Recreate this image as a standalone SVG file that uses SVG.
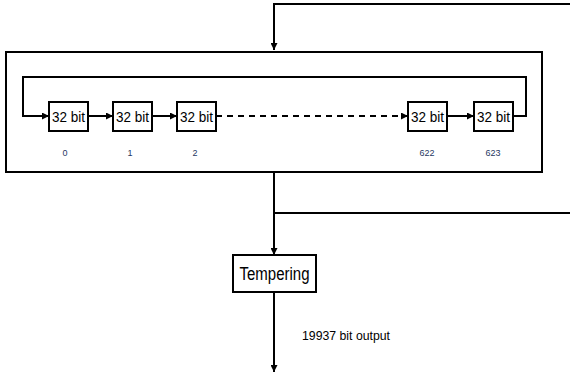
<svg xmlns="http://www.w3.org/2000/svg" width="570" height="378" viewBox="0 0 570 378">
<style>
.box{fill:#fff;stroke:#000;stroke-width:2}
.ln{fill:none;stroke:#000;stroke-width:2}
.t{font-family:"Liberation Sans Narrow","Liberation Sans",Arial,sans-serif;fill:#000;text-anchor:middle;dominant-baseline:central}
.idx{font-family:"Liberation Sans Narrow","Liberation Sans",Arial,sans-serif;fill:#1f3864;font-size:9px;text-anchor:middle;dominant-baseline:central}
</style>
<defs>
<marker id="ah" viewBox="0 0 10 10" refX="10" refY="5" markerWidth="3.5" markerHeight="3.5" orient="auto" markerUnits="strokeWidth">
<path d="M0,0 L10,5 L0,10 z" fill="#000"/>
</marker>
</defs>
<rect x="0" y="0" width="570" height="378" fill="#fff"/>
<g id="state">
<rect class="box" x="6" y="52" width="536" height="120"/>
</g>
<g id="connectors">
<polyline class="ln" points="570,4 274,4 274,50" marker-end="url(#ah)"/>
<polyline class="ln" points="513,116 526,116 526,77 23,77 23,116 49,116" marker-end="url(#ah)"/>
<line class="ln" x1="88" y1="116" x2="113" y2="116" marker-end="url(#ah)"/>
<line class="ln" x1="152" y1="116" x2="177" y2="116" marker-end="url(#ah)"/>
<line class="ln" x1="216" y1="116" x2="408" y2="116" stroke-dasharray="6,5" marker-end="url(#ah)"/>
<line class="ln" x1="447" y1="116" x2="474" y2="116" marker-end="url(#ah)"/>
<line class="ln" x1="274" y1="172" x2="274" y2="255" marker-end="url(#ah)"/>
<line class="ln" x1="274" y1="213" x2="570" y2="213"/>
<line class="ln" x1="274" y1="292" x2="274" y2="372" marker-end="url(#ah)"/>
</g>
<g id="reg0"><rect class="box" x="49" y="102" width="39" height="29"/><text class="t" x="68.5" y="116.5" font-size="14" textLength="33" lengthAdjust="spacingAndGlyphs">32 bit</text><text class="idx" x="65" y="153">0</text></g>
<g id="reg1"><rect class="box" x="113" y="102" width="39" height="29"/><text class="t" x="132.5" y="116.5" font-size="14" textLength="33" lengthAdjust="spacingAndGlyphs">32 bit</text><text class="idx" x="130" y="153">1</text></g>
<g id="reg2"><rect class="box" x="177" y="102" width="39" height="29"/><text class="t" x="196.5" y="116.5" font-size="14" textLength="33" lengthAdjust="spacingAndGlyphs">32 bit</text><text class="idx" x="195" y="153">2</text></g>
<g id="reg622"><rect class="box" x="408" y="102" width="39" height="29"/><text class="t" x="427.5" y="116.5" font-size="14" textLength="33" lengthAdjust="spacingAndGlyphs">32 bit</text><text class="idx" x="427" y="153">622</text></g>
<g id="reg623"><rect class="box" x="474" y="102" width="39" height="29"/><text class="t" x="493.5" y="116.5" font-size="14" textLength="33" lengthAdjust="spacingAndGlyphs">32 bit</text><text class="idx" x="493" y="153">623</text></g>
<g id="tempering"><rect class="box" x="233" y="255" width="83" height="37"/><text class="t" x="274.5" y="274" font-size="18" textLength="70" lengthAdjust="spacingAndGlyphs">Tempering</text></g>
<g id="output-label"><text class="t" x="346" y="336" font-size="12" textLength="88" lengthAdjust="spacingAndGlyphs">19937 bit output</text></g>
</svg>
